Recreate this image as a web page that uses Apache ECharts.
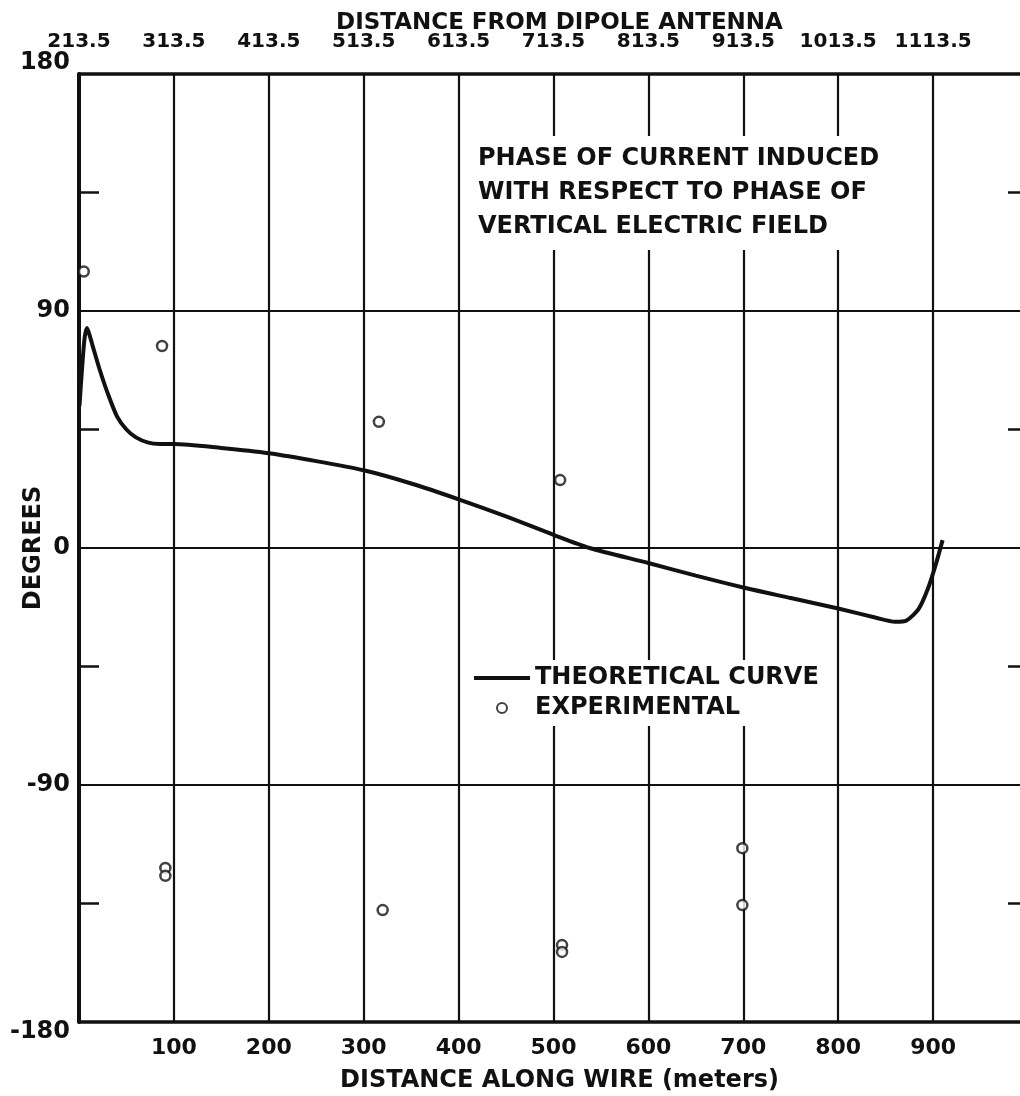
<!DOCTYPE html>
<html>
<head>
<meta charset="utf-8">
<script src="https://cdn.jsdelivr.net/npm/echarts@6/dist/echarts.min.js"></script>
<style>
  html, body { margin: 0; padding: 0; background: #fff; }
  #chart { width: 1020px; height: 1096px; }
</style>
</head>
<body>
<div id="chart"></div>
<script>
// Phase of current induced on the wire vs. distance along the wire
const theoreticalCurve = [
  [0.5, 54], [2, 62], [4, 72], [6, 80], [8.4, 83.5], [11, 81], [15, 76],
  [22, 67.5], [30, 59], [40, 50], [50, 45], [60, 42], [73, 40], [85, 39.5],
  [100, 39.5], [150, 38], [200, 36], [250, 33], [300, 29.5], [350, 24.5],
  [400, 18.5], [450, 12], [500, 5], [538, 0], [600, -5.7], [650, -10.5],
  [700, -15], [750, -19], [800, -23], [840, -26.5], [860, -28], [872, -27.5],
  [885, -23], [895, -15], [903, -6], [910, 3]
];
const experimentalPoints = [
  [5, 105], [87.5, 76.7], [316, 47.9], [507, 25.8],
  [91, -121.5], [91, -124.5], [320, -137.5], [509, -150.8], [509, -153.4],
  [699, -114], [699, -135.6]
];
const wireTicks = ['', '100', '200', '300', '400', '500', '600', '700', '800', '900'];
const antennaTicks = ['213.5', '313.5', '413.5', '513.5', '613.5', '713.5', '813.5', '913.5', '1013.5', '1113.5'];
const minorDegreeTicks = [-135, -45, 45, 135];
const noteLines = ['PHASE OF CURRENT INDUCED', 'WITH RESPECT TO PHASE OF', 'VERTICAL ELECTRIC FIELD'];

const FONT = 'DejaVu Sans';
const ink = '#111';
const txt = { fontFamily: FONT, fontWeight: 'bold', color: ink };

const chart = echarts.init(document.getElementById('chart'), null, { renderer: 'canvas' });

// inward minor ticks on a y axis without line, labels or grid lines
function minorTickAxis(position) {
  return {
    type: 'value', position: position, min: -180, max: 180, interval: 90,
    axisLine: { show: false, onZero: false },
    axisTick: { show: true, inside: true, length: 20, customValues: minorDegreeTicks, lineStyle: { color: ink, width: 2.5 } },
    axisLabel: { show: false },
    splitLine: { show: false }
  };
}

function degreeLabel(v) {
  if (v === 180) return '{up|180}';
  if (v === -180) return '{dn|-180}';
  return String(v);
}

chart.setOption({
  backgroundColor: '#fff',
  animation: false,
  title: {
    text: noteLines.join('\n'),
    left: 468,
    top: 136,
    padding: [6, 10, 6, 10],
    backgroundColor: '#fff',
    textStyle: Object.assign({}, txt, { fontSize: 24, lineHeight: 34 })
  },
  legend: {
    orient: 'vertical',
    left: 466,
    top: 660,
    padding: [6, 8, 6, 6],
    backgroundColor: '#fff',
    itemWidth: 56,
    itemHeight: 10,
    itemGap: 6,
    textStyle: Object.assign({}, txt, { fontSize: 24 }),
    data: [
      { name: 'THEORETICAL CURVE', itemStyle: { opacity: 0 }, lineStyle: { width: 4, color: ink } },
      { name: 'EXPERIMENTAL' }
    ]
  },
  grid: { left: 79, right: -8, top: 74, bottom: 74, containLabel: false, outerBoundsMode: 'none' },
  xAxis: [
    {
      type: 'value', position: 'bottom', min: 0, max: 1000, interval: 100,
      name: 'DISTANCE ALONG WIRE (meters)', nameLocation: 'middle', nameGap: 47,
      nameMoveOverlap: false,
      nameTextStyle: Object.assign({}, txt, { fontSize: 24, padding: [0, 0, 0, 12] }),
      axisLine: { show: true, onZero: false, lineStyle: { color: ink, width: 3.5 } },
      axisTick: { show: false },
      axisLabel: Object.assign({}, txt, {
        fontSize: 22, margin: 15,
        formatter: v => wireTicks[Math.round(v / 100)] || ''
      }),
      splitLine: { show: true, lineStyle: { color: ink, width: 2.2 } }
    },
    {
      type: 'value', position: 'top', min: 0, max: 1000, interval: 100,
      name: 'DISTANCE FROM DIPOLE ANTENNA', nameLocation: 'middle', nameGap: 39,
      nameMoveOverlap: false,
      nameTextStyle: Object.assign({}, txt, { fontSize: 23, padding: [0, 0, 0, 12] }),
      axisLine: { show: true, onZero: false, lineStyle: { color: ink, width: 3.5 } },
      axisTick: { show: false },
      axisLabel: Object.assign({}, txt, {
        fontSize: 20, margin: 22,
        formatter: v => antennaTicks[Math.round(v / 100)] || ''
      }),
      splitLine: { show: false }
    }
  ],
  yAxis: [
    {
      type: 'value', position: 'left', min: -180, max: 180, interval: 90,
      name: 'DEGREES', nameLocation: 'middle', nameGap: 33, nameRotate: 90,
      nameMoveOverlap: false,
      nameTextStyle: Object.assign({}, txt, { fontSize: 24 }),
      axisLine: { show: true, onZero: false, lineStyle: { color: ink, width: 4 } },
      axisTick: { show: false },
      axisLabel: Object.assign({}, txt, {
        fontSize: 24, margin: 9,
        formatter: degreeLabel,
        rich: {
          up: Object.assign({}, txt, { fontSize: 24, padding: [0, 0, 22, 0] }),
          dn: Object.assign({}, txt, { fontSize: 24, padding: [20, 0, 0, 0] })
        }
      }),
      splitLine: { show: true, lineStyle: { color: ink, width: 2 } }
    },
    minorTickAxis('left'),
    minorTickAxis('right')
  ],
  series: [
    {
      name: 'THEORETICAL CURVE',
      type: 'line',
      data: theoreticalCurve,
      smooth: 0.25,
      symbol: 'none',
      showSymbol: false,
      lineStyle: { color: ink, width: 4 },
      itemStyle: { color: ink },
      z: 3
    },
    {
      name: 'EXPERIMENTAL',
      type: 'scatter',
      data: experimentalPoints,
      symbol: 'circle',
      symbolSize: 10,
      itemStyle: { color: '#fff', borderColor: ink, borderWidth: 2.5 },
      z: 4
    }
  ]
});
</script>
</body>
</html>
